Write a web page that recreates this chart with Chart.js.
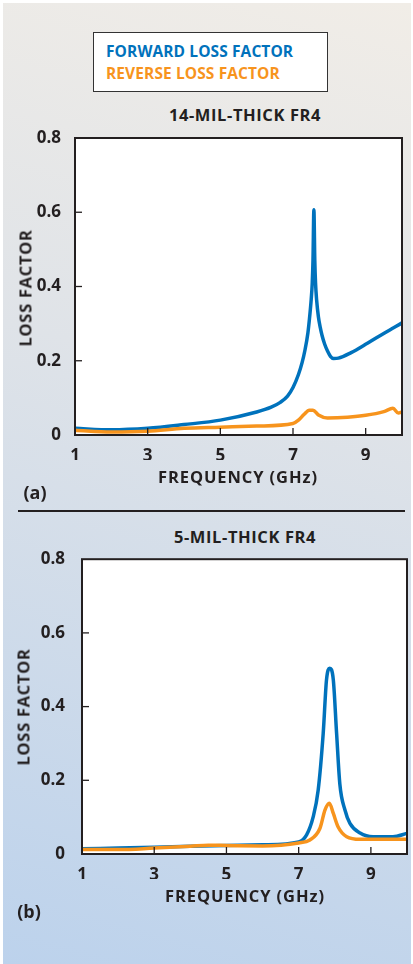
<!DOCTYPE html>
<html>
<head>
<meta charset="utf-8">
<script src="https://cdn.jsdelivr.net/npm/chart.js@4.4.0/dist/chart.umd.min.js"></script>
<style>
  html, body { margin: 0; padding: 0; background: #fff; }
  body { width: 413px; height: 964px; position: relative; overflow: hidden;
         font-family: "Open Sans", "Lato", sans-serif; font-weight: 700; color: #231f20; }
  #panel { position: absolute; left: 3px; top: 3px; right: 2px; bottom: 0;
           background: linear-gradient(195deg, #f1ede7 0%, #dfe3e8 40%, #bcd2ec 100%); }
  .abs { position: absolute; white-space: nowrap; }
  .c { transform: translate(-50%, -50%); }
  #legend { left: 93px; top: 32px; width: 233px; height: 58px; background: #fff;
            border: 1.5px solid #333; }
  #legend div { position: absolute; left: 12px; font-size: 15.5px; letter-spacing: 0.1px; }
  .ttl { font-size: 16.5px; letter-spacing: 0.6px; }
  .xtl { font-size: 16.5px; letter-spacing: 0.9px; }
  .ytl { font-size: 16.5px; letter-spacing: 0.7px; transform: translate(-50%, -50%) rotate(-90deg); }
  .tag { font-size: 18px; }
  .box { position: absolute; }
</style>
</head>
<body>
<div id="panel"></div>

<div id="legend" class="abs">
  <div style="top:7px;color:#0072bc">FORWARD LOSS FACTOR</div>
  <div style="top:29px;color:#f7941d">REVERSE LOSS FACTOR</div>
</div>

<div class="abs c ttl" style="left:245px;top:114px">14-MIL-THICK FR4</div>
<div class="box" style="left:0;top:120px;width:413px;height:360px"><canvas id="chartA"></canvas></div>
<div class="abs ytl" style="left:25px;top:288px">LOSS FACTOR</div>
<div class="abs c xtl" style="left:238px;top:476px">FREQUENCY (GHz)</div>
<div class="abs c tag" style="left:35px;top:492px">(a)</div>

<div class="abs" style="left:18px;top:510px;width:387px;height:1.5px;background:#231f20"></div>

<div class="abs c ttl" style="left:245px;top:536px">5-MIL-THICK FR4</div>
<div class="box" style="left:0;top:540px;width:413px;height:360px"><canvas id="chartB"></canvas></div>
<div class="abs ytl" style="left:23px;top:707px">LOSS FACTOR</div>
<div class="abs c xtl" style="left:245px;top:895px">FREQUENCY (GHz)</div>
<div class="abs c tag" style="left:29px;top:911px">(b)</div>

<script>
// tick values shared by both panels
var xTicks = [1, 3, 5, 7, 9];
var yTicks = [0, 0.2, 0.4, 0.6, 0.8];

// (a) 14-mil-thick FR4
var freqFwdA = [1, 2, 3, 4, 5, 6, 6.4, 6.65, 6.85, 7.0, 7.15, 7.25, 7.33, 7.41, 7.45, 7.5, 7.53, 7.55, 7.575,
                7.6, 7.62, 7.65, 7.7, 7.75, 7.8, 7.87, 7.95, 8.03, 8.12, 8.25, 8.6, 9.06, 9.52, 10];
var fwdA = [0.018, 0.014, 0.018, 0.028, 0.040, 0.062, 0.075, 0.088, 0.105, 0.128, 0.163, 0.195, 0.229, 0.275, 0.310, 0.364, 0.410, 0.470, 0.607,
            0.470, 0.410, 0.364, 0.318, 0.290, 0.268, 0.245, 0.226, 0.212, 0.206, 0.207, 0.222, 0.248, 0.275, 0.302];
var freqRevA = [1, 2, 3, 4, 5, 6, 7, 7.15, 7.3, 7.45, 7.55, 7.7, 7.95, 8.5, 9, 9.5, 9.75, 9.9, 10];
var revA = [0.013, 0.008, 0.010, 0.018, 0.021, 0.024, 0.031, 0.040, 0.055, 0.067, 0.067, 0.054, 0.046, 0.048, 0.053, 0.063, 0.072, 0.059, 0.062];

// (b) 5-mil-thick FR4
var freqFwdB = [1, 2, 3, 4, 5, 6, 7, 7.22, 7.4, 7.54, 7.68, 7.77, 7.86, 7.96, 8.05, 8.14, 8.28, 8.42, 8.7, 9.06, 9.61, 10];
var fwdB = [0.014, 0.016, 0.018, 0.021, 0.023, 0.025, 0.033, 0.052, 0.10, 0.173, 0.328, 0.472, 0.504, 0.472, 0.328, 0.19, 0.12, 0.083, 0.057, 0.047, 0.047, 0.056];
var freqRevB = [1, 2, 3, 4, 4.5, 5, 6, 7, 7.31, 7.59, 7.73, 7.85, 7.96, 8.09, 8.33, 8.7, 10];
var revB = [0.012, 0.012, 0.016, 0.021, 0.024, 0.023, 0.022, 0.030, 0.038, 0.07, 0.12, 0.138, 0.11, 0.074, 0.047, 0.040, 0.040];

var BLUE = '#0072bc';
var ORANGE = '#f7941d';

function pts(xs, ys) {
  var out = [];
  for (var i = 0; i < xs.length; i++) out.push({x: xs[i], y: ys[i]});
  return out;
}

// frame round the plot and short ticks pointing inward
var framePlugin = {
  id: 'frame',
  afterDatasetsDraw: function(chart) {
    var ctx = chart.ctx, a = chart.chartArea;
    var xs = chart.scales.x, ys = chart.scales.y;
    ctx.save();
    ctx.strokeStyle = '#231f20';
    ctx.lineWidth = 1.3;
    xTicks.forEach(function(v) {
      if (v === xs.min) return;
      var px = xs.getPixelForValue(v);
      ctx.beginPath(); ctx.moveTo(px, a.bottom); ctx.lineTo(px, a.bottom - 7); ctx.stroke();
    });
    yTicks.forEach(function(v) {
      if (v === ys.min || v === ys.max) return;
      var py = ys.getPixelForValue(v);
      ctx.beginPath(); ctx.moveTo(a.left, py); ctx.lineTo(a.left + 7, py); ctx.stroke();
    });
    ctx.lineWidth = 2;
    ctx.strokeRect(a.left, a.top, a.right - a.left, a.bottom - a.top);
    ctx.restore();
  }
};

var whiteBg = {
  id: 'whiteBg',
  beforeDatasetsDraw: function(chart) {
    var a = chart.chartArea;
    chart.ctx.save();
    chart.ctx.fillStyle = '#fff';
    chart.ctx.fillRect(a.left, a.top, a.right - a.left, a.bottom - a.top);
    chart.ctx.restore();
  }
};

function makeChart(id, fx, fy, rx, ry, pad, yPad) {
  return new Chart(document.getElementById(id), {
    type: 'line',
    data: {
      datasets: [
        { data: pts(rx, ry), borderColor: ORANGE, borderWidth: 3.5 },
        { data: pts(fx, fy), borderColor: BLUE, borderWidth: 3.5 }
      ]
    },
    options: {
      responsive: true,
      maintainAspectRatio: false,
      animation: false,
      parsing: false,
      clip: false,
      elements: {
        point: { radius: 0 },
        line: { cubicInterpolationMode: 'monotone', fill: false, borderCapStyle: 'butt', borderJoinStyle: 'round' }
      },
      layout: { padding: pad },
      plugins: { legend: { display: false }, tooltip: { enabled: false } },
      scales: {
        x: {
          type: 'linear', min: 1, max: 10,
          grid: { display: false }, border: { display: false },
          afterBuildTicks: function(s) { s.ticks = xTicks.map(function(v) { return {value: v}; }); },
          afterFit: function(s) { s.height = 25; },
          ticks: { padding: 3, color: '#231f20', font: { family: 'Open Sans', weight: 'bold', size: 17 }, maxRotation: 0 }
        },
        y: {
          min: 0, max: 0.8,
          grid: { display: false }, border: { display: false },
          afterBuildTicks: function(s) { s.ticks = yTicks.map(function(v) { return {value: v}; }); },
          afterFit: function(s) { s.width = pad.yw; },
          ticks: { padding: yPad, color: '#231f20', font: { family: 'Open Sans', weight: 'bold', size: 17 } }
        }
      }
    },
    plugins: [whiteBg, framePlugin]
  });
}

makeChart('chartA', freqFwdA, fwdA, freqRevA, revA, { left: 0, right: 11, top: 18, bottom: 20, yw: 75 }, 6);
makeChart('chartB', freqFwdB, fwdB, freqRevB, revB, { left: 0, right: 6, top: 19, bottom: 21, yw: 82 }, 9);
</script>
</body>
</html>
